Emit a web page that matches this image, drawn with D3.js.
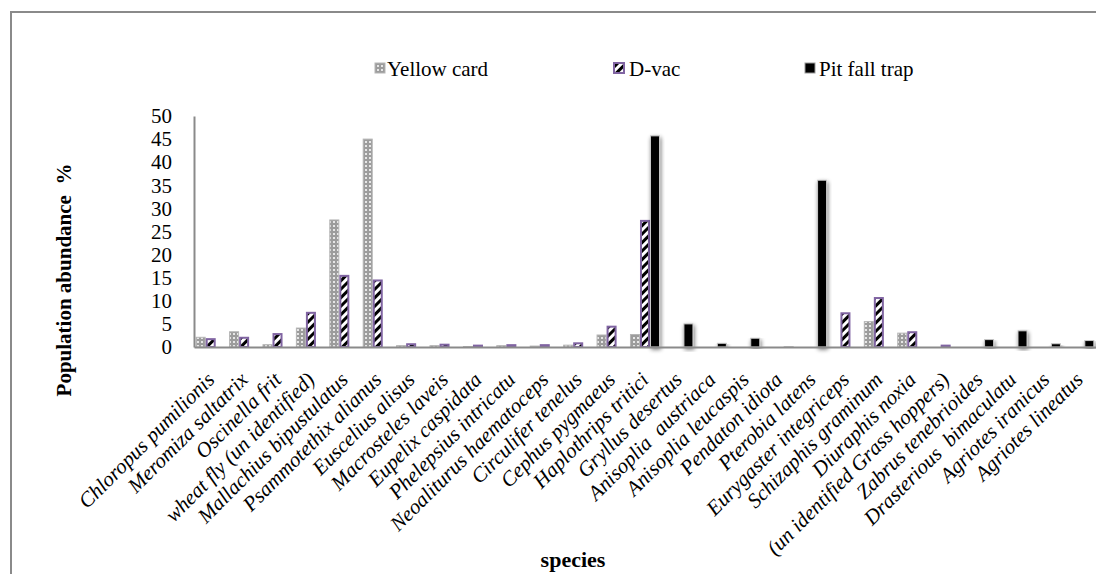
<!DOCTYPE html>
<html><head><meta charset="utf-8">
<script src="https://cdn.jsdelivr.net/npm/d3@7"></script>
<style>
html,body{margin:0;padding:0;background:#fff;}
text{white-space:pre;}
</style></head><body>
<svg id="c" width="1096" height="574" font-family="Liberation Serif, serif"></svg>
<script>
const categories = ["Chloropus pumilionis","Meromiza saltatrix","Oscinella frit","wheat fly (un identified)","Mallachius bipustulatus","Psammotethix alianus","Euscelius alisus","Macrosteles laveis","Eupelix caspidata","Phelepsius intricatu","Neoaliturus haematoceps","Circulifer tenelus","Cephus pygmaeus","Haplothrips tritici","Gryllus desertus","Anisoplia  austriaca","Anisoplia leucaspis","Pendaton idiota","Pterobia latens","Eurygaster integriceps","Schizaphis graminum","Diuraphis noxia","(un identified Grass hoppers)","Zabrus tenebrioides","Drasterious  bimaculatu","Agriotes iranicus","Agriotes lineatus"];
const yellowCard = [2.1,3.3,0.5,4.1,27.5,45.0,0.3,0.3,0.1,0.3,0.2,0.4,2.6,2.7,0,0,0,0,0,0,5.5,3.0,0,0,0,0,0];
const dVac = [1.7,2.0,2.8,7.4,15.4,14.4,0.6,0.5,0.3,0.4,0.4,0.8,4.4,27.3,0,0,0,0,0,7.3,10.6,3.2,0.3,0,0,0,0];
const pitFall = [0,0,0,0,0,0,0,0,0,0,0,0,0,45.7,5.0,0.8,1.9,0.1,36.1,0,0,0,0,1.6,3.5,0.7,1.4];
const seriesNames = ["Yellow card","D-vac","Pit fall trap"];
const yTicks = [0,5,10,15,20,25,30,35,40,45,50];

const FONT = "Liberation Serif";
const svg = d3.select("#c");
const defs = svg.append("defs");
const p1 = defs.append("pattern").attr("id","pY").attr("patternUnits","userSpaceOnUse").attr("width",4).attr("height",4);
p1.append("rect").attr("width",4).attr("height",4).attr("fill","#9c9c9c");
p1.append("rect").attr("x",1).attr("y",1).attr("width",2).attr("height",2).attr("fill","#e6e6e6");
const p2 = defs.append("pattern").attr("id","pD").attr("patternUnits","userSpaceOnUse").attr("width",6).attr("height",6).attr("patternTransform","rotate(45)");
p2.append("rect").attr("width",6).attr("height",6).attr("fill","#fff");
p2.append("rect").attr("width",3).attr("height",6).attr("fill","#000");
const f = defs.append("filter").attr("id","sh").attr("x","-60%").attr("y","-20%").attr("width","220%").attr("height","140%");
f.append("feGaussianBlur").attr("in","SourceAlpha").attr("stdDeviation",2).attr("result","b");
f.append("feOffset").attr("in","b").attr("dx",1).attr("dy",2).attr("result","o");
f.append("feComponentTransfer").attr("in","o").attr("result","o2").append("feFuncA").attr("type","linear").attr("slope",0.55);
const fm = f.append("feMerge"); fm.append("feMergeNode").attr("in","o2"); fm.append("feMergeNode").attr("in","SourceGraphic");

svg.append("rect").attr("x",11).attr("y",12).attr("width",1100).attr("height",600).attr("fill","none").attr("stroke","#8a8a8a").attr("stroke-width",2);

const x0 = d3.scaleBand().domain(categories).range([194,1096]).paddingInner(0.1).paddingOuter(0.05);
const x1 = d3.scaleBand().domain(seriesNames).range([0,x0.bandwidth()]);
const y = d3.scaleLinear().domain([0,50]).range([347,116]);

const styles = [
  {fill:"url(#pY)", stroke:"#b5b5b5", sw:1, filter:null},
  {fill:"url(#pD)", stroke:"#8064a2", sw:2, filter:null},
  {fill:"#000", stroke:"#c8c8c8", sw:1, filter:"url(#sh)"}
];
const data = [yellowCard, dVac, pitFall];

data.forEach((vals, si) => {
  const st = styles[si];
  svg.append("g").selectAll("rect").data(vals.map((v,i)=>({v,c:categories[i]})).filter(d=>d.v>0))
    .join("rect")
    .attr("x", d => x0(d.c) + x1(seriesNames[si]) + (si===1?1:0.5))
    .attr("width", x1.bandwidth() - (si===1?2:1))
    .attr("y", d => y(d.v))
    .attr("height", d => y(0) - y(d.v))
    .attr("fill", st.fill).attr("stroke", st.stroke).attr("stroke-width", st.sw)
    .attr("filter", st.filter);
});

const yAxis = svg.append("g").attr("transform","translate(194,0)").call(d3.axisLeft(y).tickValues(yTicks).tickSize(0).tickPadding(22));
yAxis.attr("font-family",FONT);
yAxis.select(".domain").attr("stroke","#8a8a8a").attr("stroke-width",2);
yAxis.selectAll("text").attr("font-size",21).attr("font-family",FONT).attr("fill","#000");

const xAxis = svg.append("g").attr("transform","translate(0,347)").call(d3.axisBottom(x0).tickSize(0).tickSizeOuter(0));
xAxis.attr("font-family",FONT);
xAxis.select(".domain").attr("stroke","#8a8a8a").attr("stroke-width",2);
xAxis.selectAll("text")
  .attr("font-size",21).attr("font-family",FONT).attr("font-style","italic").attr("fill","#000")
  .attr("text-anchor","end").attr("dy",null).attr("y",0)
  .attr("transform", "translate(5,34) rotate(-45)");

svg.append("text").attr("transform","translate(71,280) rotate(-90)").attr("text-anchor","middle")
  .attr("font-family",FONT).attr("font-size",21).attr("font-weight","bold").text("Population abundance  %");
svg.append("text").attr("x",573).attr("y",567).attr("text-anchor","middle")
  .attr("font-family",FONT).attr("font-size",22).attr("font-weight","bold").text("species");

const legX = [[375,387],[614,629],[805,819]];
const legFill = ["url(#pY)","url(#pD)","#000"];
const legStroke = ["#b5b5b5","#8064a2","#999"];
seriesNames.forEach((n,i)=>{
  svg.append("rect").attr("x",legX[i][0]).attr("y",63).attr("width",10).attr("height",10)
    .attr("fill",legFill[i]).attr("stroke",legStroke[i]).attr("stroke-width",i===1?2:1);
  svg.append("text").attr("x",legX[i][1]).attr("y",76).attr("font-family",FONT).attr("font-size",21).text(n);
});
</script></body></html>
